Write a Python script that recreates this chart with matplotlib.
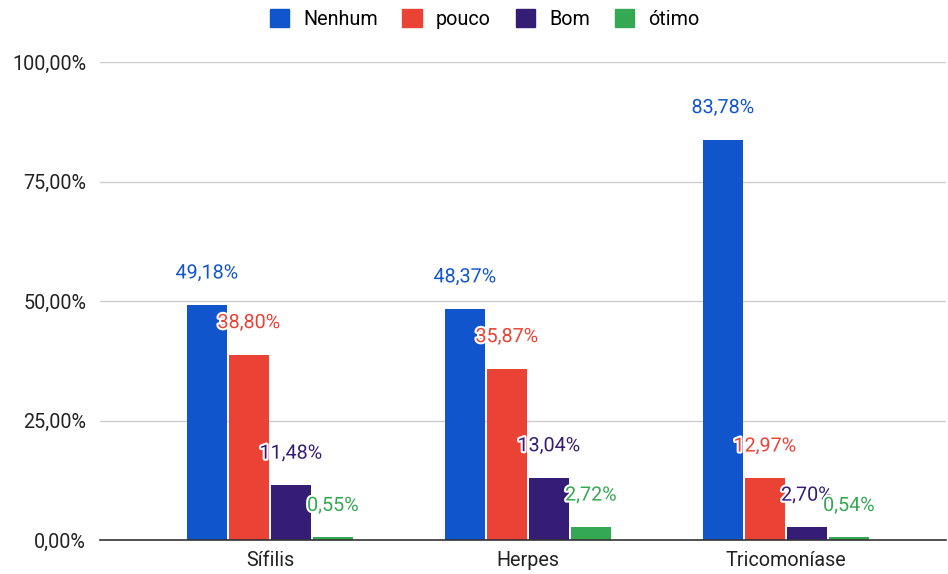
import matplotlib.pyplot as plt
import matplotlib.patheffects as pe
from matplotlib.patches import Patch
import numpy as np

plt.rcParams['font.family'] = ['Roboto', 'DejaVu Sans']

categories = ["Sífilis", "Herpes", "Tricomoníase"]
series = ["Nenhum", "pouco", "Bom", "ótimo"]
nenhum = [49.18, 48.37, 83.78]
pouco = [38.80, 35.87, 12.97]
bom = [11.48, 13.04, 2.70]
otimo = [0.55, 2.72, 0.54]
values = [nenhum, pouco, bom, otimo]
colors = ["#1155cc", "#ea4335", "#351c75", "#34a853"]

fig = plt.figure(figsize=(9.48, 5.74), dpi=100)
ax = fig.add_axes([100 / 948, 34 / 574, 846 / 948, 478 / 574])

x = np.arange(len(categories))
step = 42 / 258
width = 40 / 258
for i, (vals, col) in enumerate(zip(values, colors)):
    pos = x + (i - 1.5) * step
    ax.bar(pos, vals, width=width, color=col, zorder=3)
    for xp, v in zip(pos, vals):
        ax.annotate(f"{v:.2f}%".replace(".", ","), (xp, v),
                    xytext=(0, 23), textcoords="offset points",
                    ha="center", va="center", fontsize=14.2, color=col,
                    zorder=5,
                    path_effects=[pe.withStroke(linewidth=3, foreground="white")])

ax.set_xlim(-170 / 258, 676 / 258)
ax.set_ylim(0, 100)
ax.set_yticks([0, 25, 50, 75, 100])
ax.set_yticklabels(["0,00%", "25,00%", "50,00%", "75,00%", "100,00%"])
ax.set_xticks(x)
ax.set_xticklabels(categories)
ax.tick_params(axis="both", length=0, labelsize=14.2, colors="#222222")
ax.tick_params(axis="y", pad=10)
ax.tick_params(axis="x", pad=8)
ax.grid(axis="y", color="#cccccc", linewidth=1, zorder=0)
for s in ["top", "right", "left"]:
    ax.spines[s].set_visible(False)
ax.spines["bottom"].set_color("#333333")
ax.spines["bottom"].set_linewidth(1.2)
ax.spines["bottom"].set_zorder(4)

handles = [Patch(facecolor=c, edgecolor=c) for c in colors]
fig.legend(handles, series, loc="upper center", bbox_to_anchor=(0.511, 1.015),
           ncol=4, frameon=False, fontsize=14.2, handlelength=1.0,
           handleheight=1.0, handletextpad=0.7, columnspacing=1.25)

fig.savefig("out.png", dpi=100)
